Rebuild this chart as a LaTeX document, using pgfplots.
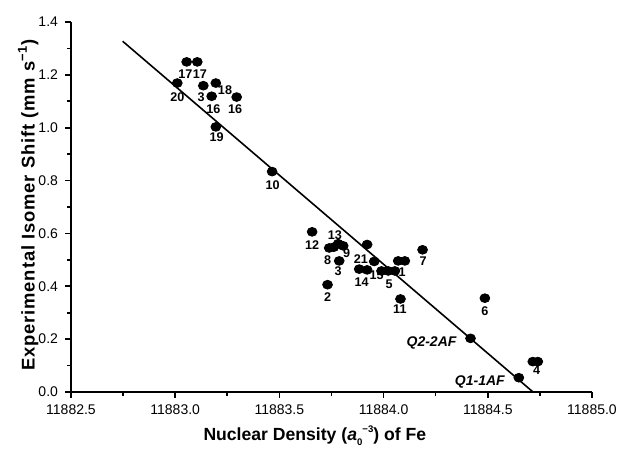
\documentclass[border=0pt]{standalone}
\usepackage{fontspec}
\setmainfont{Liberation Sans}
\usepackage{pgfplots}
\pgfplotsset{compat=1.18}

\begin{document}
\begin{tikzpicture}
\begin{axis}[
  at={(0,0)}, anchor=south west,
  scale only axis,
  width=260.5pt, height=185pt,
  xmin=11882.5, xmax=11885, ymin=0, ymax=1.4,
  axis lines*=left,
  axis line style={black, line width=0.9pt, -},
  tick style={black, line width=0.8pt},
  tick align=outside,
  major tick length=3pt, minor tick length=2pt,
  xtick={11882.5,11883,11883.5,11884,11884.5,11885},
  ytick={0,0.2,0.4,0.6,0.8,1.0,1.2,1.4},
  minor x tick num=1, minor y tick num=1,
  scaled x ticks=false, scaled y ticks=false,
  /pgf/number format/.cd, fixed, fixed zerofill, precision=1, 1000 sep={}, assume math mode=true,
  /pgfplots/.cd,
  ticklabel style={font=\fontsize{7}{8}\selectfont},
  xlabel={Nuclear Density (\textit{a}\raisebox{-2.4pt}{\fontsize{4.8}{5}\selectfont 0}\raisebox{4.0pt}{\fontsize{4.8}{5}\selectfont −3}) of Fe},
  ylabel={Experimental Isomer Shift (mm s\textsuperscript{−1})},
  xlabel style={font=\fontsize{8.8}{10}\selectfont\bfseries, at={(axis description cs:0.468,-0.119)}, anchor=center},
  ylabel style={font=\fontsize{9.2}{10}\selectfont\bfseries\addfontfeature{LetterSpace=4.8}, at={(axis description cs:-0.082,0.505)}, anchor=center},
  clip=false,
]
% fitted line
\addplot[black, line width=0.8pt] coordinates {(11882.748,1.327) (11884.717,0)};
% data points
\addplot[only marks, mark=*, mark size=2.2pt, mark options={fill=black, draw=black, xscale=1.12}] coordinates {
(11883.055,1.249) (11883.106,1.249) (11883.010,1.169) (11883.135,1.159)
(11883.195,1.169) (11883.175,1.119) (11883.295,1.116) (11883.195,1.003)
(11883.465,0.834) (11883.657,0.606) (11883.739,0.545) (11883.761,0.548)
(11883.782,0.561) (11883.806,0.553) (11883.787,0.496) (11883.731,0.406)
(11883.921,0.558) (11883.955,0.494) (11883.883,0.465) (11883.921,0.462)
(11883.990,0.458) (11884.022,0.458) (11884.054,0.458) (11884.070,0.496)
(11884.102,0.496) (11884.187,0.538) (11884.081,0.352) (11884.486,0.355)
(11884.417,0.203) (11884.649,0.054) (11884.716,0.115) (11884.740,0.115)
};
% point labels
\addplot[only marks, mark=none, point meta=explicit symbolic, nodes near coords,
  every node near coord/.append style={anchor=center, inner sep=0pt, font=\fontsize{6.3}{7}\selectfont\bfseries}]
coordinates {
(11883.049,1.204) [17] (11883.119,1.204) [17] (11883.010,1.116) [20]
(11883.124,1.116) [3] (11883.239,1.141) [18] (11883.183,1.072) [16]
(11883.287,1.071) [16] (11883.199,0.963) [19] (11883.467,0.784) [10]
(11883.657,0.557) [12] (11883.766,0.595) [13] (11883.731,0.500) [8]
(11883.822,0.525) [9] (11883.782,0.456) [3] (11883.731,0.359) [2]
(11883.891,0.504) [21] (11883.894,0.414) [14] (11883.966,0.441) [15]
(11884.027,0.406) [5] (11884.089,0.453) [1] (11884.190,0.494) [7]
(11884.078,0.313) [11] (11884.486,0.304) [6] (11884.734,0.083) [4]
};
\addplot[only marks, mark=none, point meta=explicit symbolic, nodes near coords,
  every node near coord/.append style={anchor=center, inner sep=0pt, font=\fontsize{7}{8}\selectfont\bfseries\itshape}]
coordinates {(11884.230,0.187) [Q2-2AF] (11884.462,0.039) [Q1-1AF]};
\end{axis}
\pgfresetboundingbox
\path (-35.5pt,-31pt) rectangle (275.5pt,196pt);
\end{tikzpicture}
\end{document}
